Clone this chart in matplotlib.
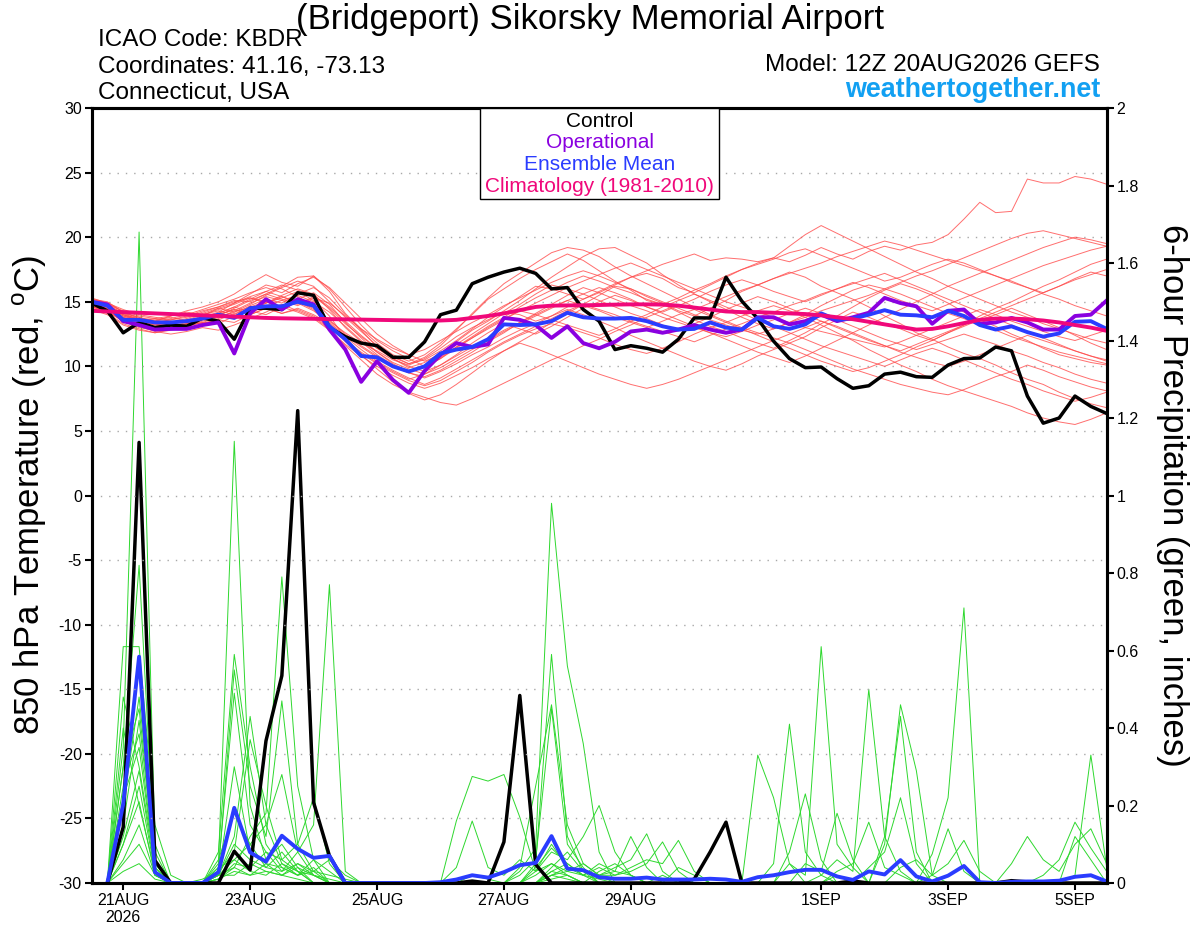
import numpy as np
import matplotlib
matplotlib.use('Agg')
import matplotlib.pyplot as plt
from matplotlib.patches import Rectangle

plt.rcParams['font.family'] = ['Liberation Sans', 'DejaVu Sans']
plt.rcParams['mathtext.fontset'] = 'custom'
plt.rcParams['mathtext.rm'] = 'Liberation Sans'
plt.rcParams['axes.unicode_minus'] = False

# 6-hourly steps from 12Z 20AUG2026 (hour 0) to 12Z 5SEP (hour 384)
hours = np.arange(65) * 6
tick_hours = [12, 60, 108, 156, 204, 276, 324, 372]
tick_labels = ['21AUG\n2026', '23AUG', '25AUG', '27AUG', '29AUG', '1SEP', '3SEP', '5SEP']

# 850 hPa temperature (C)
control_t = [14.9, 14.3, 12.6, 13.4, 13.0, 13.2, 13.1, 13.75,
             13.5, 12.1, 14.5, 14.5, 14.4, 15.7, 15.5, 13.0,
             12.3, 11.8, 11.6, 10.7, 10.7, 11.9, 14.0, 14.35,
             16.4, 16.9, 17.3, 17.6, 17.2, 16.0, 16.1, 14.4,
             13.5, 11.3, 11.6, 11.4, 11.1, 12.1, 13.75, 13.75,
             16.9, 15.05, 13.7, 11.95, 10.6, 9.9, 9.95, 9.05,
             8.3, 8.5, 9.4, 9.55, 9.2, 9.15, 10.1, 10.6,
             10.65, 11.5, 11.2, 7.7, 5.6, 6.0, 7.7, 6.9,
             6.35]
oper_t = [15.0, 14.8, 13.5, 13.2, 12.85, 12.9, 12.9, 13.2,
          13.4, 11.0, 14.1, 15.2, 14.4, 15.2, 14.8, 12.85,
          11.3, 8.8, 10.4, 8.95, 7.95, 9.65, 10.9, 11.8,
          11.5, 11.7, 13.75, 13.6, 13.2, 12.2, 13.1, 11.8,
          11.4, 11.9, 12.7, 12.85, 12.6, 12.85, 13.2, 12.85,
          12.6, 12.85, 13.8, 13.8, 13.25, 13.5, 14.0, 13.5,
          13.8, 14.15, 15.3, 14.9, 14.65, 13.3, 14.3, 14.4,
          13.3, 13.4, 13.75, 13.4, 12.85, 12.85, 13.9, 14.0,
          15.1]
mean_t = [15.0, 14.7, 13.6, 13.6, 13.4, 13.4, 13.5, 13.7,
          14.0, 13.75, 14.5, 14.65, 14.65, 15.0, 14.7, 13.1,
          12.1, 10.8, 10.7, 10.0, 9.6, 10.0, 11.0, 11.3,
          11.5, 12.1, 13.25, 13.2, 13.25, 13.5, 14.15, 13.8,
          13.7, 13.7, 13.75, 13.5, 13.1, 12.85, 12.9, 13.4,
          13.0, 12.85, 13.75, 13.1, 12.9, 13.25, 14.1, 13.6,
          13.7, 14.0, 14.35, 14.0, 13.95, 13.8, 14.3, 13.9,
          13.2, 12.85, 13.1, 12.65, 12.3, 12.55, 13.45, 13.5,
          12.9]
clim_t = [14.3, 14.25, 14.2, 14.15, 14.1, 14.05, 14.0, 13.95,
          13.9, 13.85, 13.8, 13.75, 13.72, 13.7, 13.68, 13.66,
          13.64, 13.62, 13.6, 13.58, 13.56, 13.55, 13.55, 13.6,
          13.75, 13.9, 14.1, 14.35, 14.6, 14.7, 14.72, 14.73,
          14.75, 14.78, 14.8, 14.8, 14.78, 14.7, 14.55, 14.4,
          14.25, 14.2, 14.2, 14.15, 14.1, 14.05, 13.95, 13.8,
          13.65, 13.45, 13.25, 13.05, 12.85, 12.9, 13.1, 13.35,
          13.6, 13.7, 13.7, 13.65, 13.55, 13.4, 13.2, 13.0,
          12.75]

members_t = [
    [14.8, 14.5, 13.9, 13.6, 13.3, 13.1, 13.4, 13.8, 14.2, 14.9, 15.6, 16.3, 16.0, 15.4, 14.6, 13.5,
     12.6, 11.8, 11.2, 10.5, 10.1, 10.6, 11.4, 12.3, 13.0, 13.6, 14.2, 14.0, 13.5, 13.9, 14.6, 15.2,
     15.8, 16.4, 16.9, 17.2, 16.8, 16.1, 15.7, 16.3, 16.9, 17.5, 18.0, 18.4, 18.1, 18.6, 19.2, 18.7,
     18.3, 18.9, 19.3, 19.0, 19.4, 19.6, 20.2, 21.4, 22.7, 21.9, 22.0, 24.5, 24.2, 24.2, 24.7, 24.5, 24.1],
    [15.2, 15.0, 14.2, 13.8, 13.5, 13.9, 14.3, 14.6, 15.0, 15.6, 16.4, 17.1, 16.5, 16.2, 17.0, 15.8,
     14.1, 12.9, 11.8, 10.9, 10.4, 10.9, 11.8, 12.9, 14.0, 15.2, 16.0, 16.8, 17.5, 18.1, 18.7, 18.2,
     17.4, 16.6, 15.9, 15.1, 14.8, 14.2, 13.6, 13.1, 12.7, 12.2, 11.8, 11.4, 12.0, 12.6, 13.3, 13.9,
     14.6, 15.3, 15.9, 16.4, 16.0, 15.5, 14.9, 14.2, 13.6, 13.1, 12.5, 12.0, 11.4, 10.9, 10.6, 10.3, 10.1],
    [14.6, 14.3, 13.5, 13.0, 12.8, 12.9, 13.1, 13.4, 13.3, 13.9, 14.4, 14.9, 15.3, 15.8, 15.1, 13.9,
     12.2, 10.9, 9.8, 8.8, 7.9, 7.4, 7.8, 8.6, 9.5, 10.4, 11.2, 11.9, 12.6, 13.4, 14.1, 14.8,
     15.5, 16.2, 16.0, 15.4, 14.9, 14.3, 13.9, 14.5, 15.1, 15.8, 16.3, 16.8, 17.3, 16.9, 16.2, 15.7,
     15.2, 14.6, 13.9, 13.3, 12.6, 12.1, 11.5, 11.0, 10.6, 10.1, 9.5, 9.0, 8.6, 8.0, 7.5, 7.1, 6.8],
    [15.0, 14.6, 14.0, 13.7, 13.6, 13.8, 13.5, 13.9, 14.5, 14.2, 14.8, 15.5, 16.1, 16.6, 16.2, 15.0,
     13.8, 12.7, 11.6, 10.8, 10.2, 10.7, 11.6, 12.8, 14.1, 15.3, 16.4, 17.2, 18.0, 18.8, 19.2, 19.0,
     18.5, 17.7, 17.0, 16.4, 15.8, 15.2, 14.6, 14.0, 13.5, 13.0, 12.6, 12.2, 11.8, 12.3, 13.0, 13.6,
     14.2, 13.8, 13.3, 12.9, 12.4, 12.0, 12.6, 13.2, 13.9, 14.5, 15.0, 15.6, 16.2, 16.7, 17.3, 17.9, 18.3],
    [14.9, 14.4, 13.7, 13.3, 13.0, 13.2, 13.6, 14.0, 14.3, 14.0, 14.7, 15.2, 14.9, 15.6, 16.1, 15.3,
     14.0, 12.8, 11.5, 10.6, 9.9, 10.3, 11.0, 11.9, 12.8, 13.5, 14.3, 15.1, 16.0, 16.9, 17.7, 18.5,
     19.1, 19.2, 18.6, 18.0, 17.1, 16.3, 15.6, 15.0, 14.4, 13.8, 13.3, 12.9, 13.4, 14.0, 14.7, 15.3,
     15.9, 16.3, 16.0, 15.6, 15.1, 14.6, 14.1, 13.7, 13.2, 12.8, 12.3, 11.9, 11.5, 11.1, 10.8, 10.5, 10.2],
    [14.5, 14.1, 13.3, 12.9, 12.6, 12.8, 13.0, 13.2, 13.6, 14.1, 14.3, 14.0, 14.6, 15.0, 14.4, 13.2,
     11.9, 11.0, 10.2, 9.5, 8.9, 8.5, 8.9, 9.6, 10.3, 11.1, 11.8, 12.4, 12.9, 13.3, 13.0, 12.6,
     12.2, 11.7, 11.3, 11.0, 11.4, 11.9, 12.5, 13.0, 13.4, 13.9, 14.3, 14.7, 14.3, 13.8, 13.2, 12.6,
     12.0, 11.3, 10.7, 10.1, 9.6, 9.0, 8.5, 8.1, 7.7, 7.3, 6.9, 6.4, 6.0, 5.7, 5.5, 5.9, 6.4],
    [15.3, 14.9, 14.4, 14.0, 13.8, 13.6, 13.8, 14.2, 14.6, 15.1, 15.0, 15.6, 16.2, 16.9, 17.0, 16.0,
     14.6, 13.2, 12.0, 11.2, 10.6, 10.0, 10.6, 11.5, 12.3, 13.1, 13.8, 14.6, 15.3, 15.9, 16.5, 17.0,
     16.6, 16.1, 15.7, 15.2, 14.8, 15.3, 15.9, 16.4, 17.0, 17.5, 17.9, 18.3, 18.8, 19.1, 18.6, 18.1,
     17.6, 17.1, 16.6, 16.9, 17.4, 17.9, 18.3, 18.0, 17.5, 17.0, 16.6, 16.1, 15.7, 16.2, 16.8, 17.3, 17.0],
    [14.7, 14.2, 13.5, 13.1, 12.7, 12.5, 12.7, 13.0, 12.8, 13.2, 13.7, 14.2, 14.8, 14.3, 13.8, 12.9,
     11.6, 10.5, 9.4, 8.6, 8.0, 7.6, 7.2, 7.0, 7.5, 8.1, 8.7, 9.3, 9.9, 10.5, 11.0, 11.6,
     12.1, 12.7, 13.2, 13.8, 14.3, 14.8, 14.4, 13.9, 13.4, 12.9, 12.4, 11.9, 11.4, 10.9, 10.4, 10.0,
     9.6, 9.9, 10.4, 10.9, 11.5, 12.0, 12.6, 13.1, 13.6, 14.0, 14.5, 14.0, 13.5, 13.0, 12.4, 11.8, 11.3],
    [15.1, 14.8, 14.1, 13.8, 13.4, 13.3, 13.2, 13.6, 14.0, 14.4, 14.1, 14.7, 15.1, 15.5, 15.0, 14.2,
     13.1, 12.0, 11.1, 10.3, 9.8, 9.4, 9.9, 10.6, 11.3, 12.0, 12.7, 13.3, 13.9, 14.5, 15.1, 15.6,
     16.1, 15.7, 15.2, 14.6, 14.1, 13.6, 13.1, 12.6, 12.1, 11.6, 11.1, 10.7, 10.3, 10.8, 11.4, 12.0,
     12.6, 13.2, 13.8, 14.4, 15.0, 15.6, 16.2, 16.7, 17.2, 17.7, 18.2, 18.7, 19.2, 19.6, 20.0, 19.8, 19.5],
    [14.4, 14.0, 13.2, 12.8, 12.6, 12.9, 13.3, 13.7, 14.1, 14.6, 15.2, 15.8, 15.4, 14.9, 14.3, 13.4,
     12.4, 11.5, 10.7, 10.0, 9.5, 9.1, 9.6, 10.2, 10.9, 11.5, 12.2, 12.8, 13.3, 13.9, 14.4, 14.0,
     13.5, 13.0, 12.4, 11.9, 11.4, 10.9, 10.4, 10.0, 9.7, 10.2, 10.8, 11.3, 11.8, 11.3, 10.8, 10.3,
     9.8, 9.4, 9.0, 8.6, 8.3, 8.0, 7.8, 8.2, 8.7, 9.2, 9.6, 10.1, 9.7, 9.2, 8.8, 8.4, 8.1],
    [14.9, 14.7, 14.0, 13.5, 13.2, 13.4, 13.7, 14.1, 14.5, 14.9, 15.4, 15.8, 16.3, 15.9, 15.5, 14.6,
     13.5, 12.4, 11.4, 10.7, 10.2, 10.5, 11.2, 12.0, 12.9, 13.8, 14.6, 15.4, 16.2, 16.0, 15.6, 15.2,
     15.7, 16.3, 16.9, 17.4, 17.9, 18.3, 18.7, 18.2, 18.4, 18.3, 18.1, 18.4, 19.3, 20.2, 20.9, 20.3,
     19.7, 19.1, 18.5, 17.9, 17.3, 16.8, 16.2, 15.7, 15.2, 14.7, 14.2, 13.8, 13.3, 12.9, 12.5, 12.1, 11.8],
    [15.0, 14.8, 14.3, 13.9, 13.7, 13.5, 13.4, 13.3, 13.7, 14.3, 14.9, 15.4, 15.1, 14.7, 15.3, 14.9,
     13.9, 12.9, 12.1, 11.4, 10.9, 11.3, 12.0, 12.7, 13.4, 14.0, 14.7, 15.3, 15.9, 16.5, 17.0, 17.4,
     17.0, 16.5, 16.0, 15.5, 15.0, 14.5, 14.0, 13.6, 13.2, 12.8, 12.5, 12.9, 13.4, 13.8, 14.3, 14.7,
     15.1, 15.5, 16.0, 16.5, 17.0, 17.4, 17.9, 18.4, 18.9, 19.4, 19.9, 20.3, 20.5, 20.2, 19.9, 19.6, 19.3],
    [14.6, 14.4, 13.8, 13.4, 13.0, 12.9, 13.1, 13.4, 13.8, 14.2, 14.6, 15.0, 14.6, 14.2, 13.7, 12.8,
     11.7, 10.8, 10.0, 9.3, 8.7, 8.3, 8.7, 9.3, 9.9, 10.6, 11.2, 11.8, 11.4, 10.9, 10.4, 9.9,
     9.4, 9.0, 8.6, 8.3, 8.6, 9.0, 9.5, 10.0, 10.5, 11.0, 11.5, 12.0, 12.5, 13.0, 13.5, 13.1,
     12.6, 12.1, 11.6, 11.1, 10.7, 10.3, 10.0, 10.4, 10.9, 11.4, 11.9, 12.4, 12.0, 11.6, 11.2, 10.8, 10.5],
    [15.2, 14.9, 14.2, 13.7, 13.5, 13.7, 14.0, 14.4, 14.8, 15.2, 15.7, 16.1, 15.7, 16.4, 16.9, 16.1,
     14.9, 13.7, 12.5, 11.6, 10.9, 10.4, 10.9, 11.7, 12.5, 13.3, 14.1, 14.8, 15.6, 16.3, 16.0, 15.6,
     15.1, 14.6, 14.1, 13.7, 13.2, 12.8, 13.3, 13.8, 14.4, 14.9, 15.4, 15.0, 14.5, 14.0, 13.5, 13.0,
     12.5, 12.0, 11.6, 11.2, 11.7, 12.2, 12.7, 13.2, 13.7, 14.2, 14.7, 15.2, 15.7, 16.2, 16.7, 17.1, 17.5],
    [14.8, 14.6, 14.0, 13.6, 13.4, 13.6, 13.9, 14.3, 14.6, 15.0, 15.3, 15.0, 14.6, 15.2, 15.7, 14.8,
     13.4, 12.2, 11.1, 10.2, 9.6, 9.9, 10.6, 11.4, 12.2, 12.9, 13.6, 14.3, 14.9, 15.5, 16.1, 16.6,
     17.1, 17.6, 18.0, 17.5, 17.0, 16.5, 16.0, 15.5, 15.0, 14.6, 14.2, 13.8, 13.4, 13.0, 12.7, 12.4,
     12.1, 11.8, 11.5, 11.9, 12.4, 12.9, 13.4, 13.9, 14.4, 14.0, 13.5, 13.1, 12.7, 12.3, 12.0, 12.4, 12.8],
    [14.7, 14.3, 13.6, 13.2, 13.0, 13.1, 13.3, 13.6, 14.0, 14.4, 14.0, 14.5, 14.1, 14.5, 14.0, 13.3,
     12.3, 11.3, 10.4, 9.7, 9.1, 8.6, 9.1, 9.8, 10.5, 11.2, 11.9, 12.5, 13.1, 13.7, 14.3, 14.8,
     14.4, 14.0, 13.5, 13.1, 12.7, 12.3, 11.9, 12.4, 12.9, 13.3, 13.8, 14.2, 14.7, 15.1, 15.6, 16.0,
     16.4, 16.8, 17.2, 16.7, 16.2, 15.7, 15.2, 14.7, 14.2, 13.7, 13.2, 12.7, 12.2, 11.7, 11.2, 10.8, 10.4],
    [14.9, 14.6, 13.9, 13.5, 13.3, 13.0, 13.2, 13.5, 13.9, 14.5, 15.1, 15.6, 15.2, 14.8, 15.4, 14.5,
     13.3, 12.3, 11.4, 10.6, 10.0, 9.6, 10.1, 10.9, 11.8, 12.6, 13.3, 12.9, 12.5, 13.1, 13.8, 14.5,
     15.0, 15.5, 15.1, 14.6, 14.2, 14.7, 15.2, 15.8, 16.3, 16.7, 16.3, 15.8, 15.4, 15.0, 15.5, 16.0,
     16.5, 16.1, 15.6, 15.1, 14.7, 14.3, 14.8, 15.3, 15.8, 16.3, 16.8, 17.3, 17.8, 18.2, 18.6, 19.0, 19.3],
    [15.1, 14.7, 14.1, 13.6, 13.7, 13.9, 14.2, 14.0, 14.4, 14.8, 15.3, 14.9, 15.5, 16.0, 15.6, 14.4,
     13.0, 11.9, 10.9, 10.1, 9.5, 9.2, 9.7, 10.4, 11.1, 11.9, 12.6, 13.4, 14.1, 14.8, 15.5, 16.1,
     15.7, 15.2, 14.7, 14.3, 13.8, 13.4, 13.0, 12.6, 12.3, 12.7, 13.2, 13.6, 14.1, 14.5, 14.1, 13.6,
     13.1, 12.6, 12.1, 11.7, 11.3, 11.7, 12.1, 12.5, 12.1, 11.7, 11.2, 10.8, 10.3, 9.9, 9.4, 9.0, 8.7],
    [14.6, 14.2, 13.6, 13.4, 13.1, 13.3, 13.6, 13.3, 13.6, 13.4, 14.0, 14.5, 14.1, 14.4, 13.9, 13.0,
     12.0, 11.1, 10.3, 9.6, 9.0, 9.4, 10.1, 10.8, 11.5, 12.1, 12.8, 13.4, 14.0, 14.6, 15.1, 14.7,
     14.3, 13.8, 13.4, 13.0, 13.5, 14.0, 14.4, 14.9, 15.4, 15.9, 16.3, 16.8, 17.2, 17.6, 18.0, 18.5,
     18.9, 19.3, 19.7, 19.4, 19.0, 18.6, 18.2, 17.8, 17.4, 17.0, 16.5, 16.1, 15.6, 15.2, 14.7, 14.3, 13.9],
    [15.0, 14.5, 13.8, 13.5, 13.2, 13.0, 13.3, 13.7, 14.1, 14.6, 14.2, 14.9, 15.4, 15.0, 14.5, 13.6,
     12.5, 11.6, 10.8, 10.1, 9.6, 10.0, 10.7, 11.5, 12.2, 13.0, 13.7, 14.3, 14.0, 13.6, 13.2, 12.8,
     12.4, 12.9, 13.5, 14.0, 14.6, 15.1, 15.6, 15.1, 14.6, 14.1, 13.6, 13.1, 12.6, 12.1, 11.6, 11.2,
     10.8, 10.4, 10.0, 10.5, 11.0, 11.4, 11.0, 10.5, 10.0, 9.5, 9.0, 8.6, 8.1, 7.7, 7.3, 7.6, 8.0],
]

# 6-hour precipitation (inches), first value at hour 6
control_p = [0, .144, 1.137, .058, 0, 0, 0, 0,
             .082, .034, .367, .535, 1.219, .208, .07, 0,
             0, 0, 0, 0, 0, 0, 0, .005,
             0, .106, .484, .048, 0, 0, 0, 0,
             0, 0, 0, 0, 0, .01, .08, .157,
             0, 0, 0, 0, 0, 0, 0, .005,
             0, 0, 0, 0, 0, 0, 0, 0,
             0, .006, .003, 0, 0, 0, 0, 0]
mean_p = [0, .204, .584, .028, 0, 0, 0, .028,
          .194, .079, .055, .122, .088, .065, .07, 0,
          0, 0, 0, 0, 0, .002, .009, .02,
          .014, .028, .046, .052, .121, .037, .033, .015,
          .011, .011, .014, .009, .009, .009, .011, .009,
          .003, .015, .02, .028, .034, .034, .017, .008,
          .03, .022, .059, .017, .004, .019, .044, .002,
          0, .003, .004, .004, .006, .016, .02, .004]

members_p = [
    [0, .35, 1.68, .10, 0, 0, 0, .02, .30, .08, .05, .02, .01, 0, 0, 0,
     0, 0, 0, 0, 0, 0, 0, 0, 0, 0, .03, .09, .98, .56, .36, .08,
     0, 0, 0, .02, 0, 0, 0, 0, 0, 0, 0, 0, 0, 0, 0, 0,
     0, 0, 0, 0, 0, 0, 0, 0, 0, 0, 0, 0, 0, .02, .33, .04],
    [0, .30, .82, .05, 0, 0, 0, .05, 1.14, .20, .06, .10, .04, 0, 0, 0,
     0, 0, 0, 0, 0, 0, 0, 0, 0, 0, 0, .05, .59, .12, .03, 0,
     0, 0, 0, 0, 0, 0, 0, 0, 0, 0, .05, .41, .08, .02, 0, 0,
     0, 0, 0, 0, 0, 0, 0, 0, 0, 0, 0, 0, 0, 0, 0, 0],
    [0, .61, .61, .15, .02, 0, 0, .08, .59, .30, .10, .04, .02, .06, .03, 0,
     0, 0, 0, 0, 0, 0, 0, 0, 0, 0, 0, 0, .02, .01, 0, 0,
     0, 0, 0, 0, 0, 0, 0, 0, 0, .33, .22, .05, 0, 0, .02, 0,
     0, 0, 0, 0, 0, 0, 0, 0, 0, 0, 0, 0, 0, 0, 0, 0],
    [0, .20, .48, .08, 0, 0, .01, .03, .55, .25, .12, .47, .10, .03, 0, 0,
     0, 0, 0, 0, 0, 0, 0, .02, .01, 0, .04, .25, .46, .15, .05, .02,
     0, 0, 0, 0, 0, 0, 0, 0, 0, 0, 0, .05, .02, .61, .10, .04,
     0, 0, 0, 0, 0, 0, 0, 0, 0, 0, 0, 0, 0, 0, 0, 0],
    [0, .15, .42, .06, 0, 0, 0, .04, .49, .15, .08, .03, .05, .02, 0, 0,
     0, 0, 0, 0, 0, 0, 0, 0, 0, 0, .02, .06, .45, .10, .04, 0,
     0, 0, 0, 0, 0, 0, 0, 0, 0, 0, 0, .08, .23, .06, 0, 0,
     0, 0, 0, 0, 0, 0, 0, 0, 0, 0, 0, 0, 0, 0, 0, 0],
    [0, .25, .385, .04, 0, 0, 0, .06, .18, .10, .04, .08, .03, 0, 0, 0,
     0, 0, 0, 0, 0, 0, 0, 0, 0, 0, 0, .03, .08, .06, .12, .20,
     .08, .02, 0, 0, 0, 0, 0, 0, 0, 0, 0, 0, .05, .03, .18, .06,
     0, 0, 0, 0, 0, 0, 0, 0, 0, 0, 0, 0, 0, 0, 0, 0],
    [0, .12, .29, .03, 0, 0, 0, .02, .12, .43, .15, .05, .02, .04, 0, 0,
     0, 0, 0, 0, 0, 0, 0, 0, 0, 0, 0, .02, .05, .03, .02, .05,
     .03, .12, .04, 0, 0, 0, 0, 0, 0, 0, 0, 0, 0, .02, .06, .03,
     .50, .12, .03, 0, 0, 0, 0, 0, 0, 0, 0, 0, 0, 0, 0, 0],
    [0, .10, .21, .02, 0, 0, 0, .03, .08, .37, .20, .06, .03, 0, 0, 0,
     0, 0, 0, 0, 0, 0, 0, 0, 0, 0, 0, 0, .04, .08, .03, .02,
     .04, .06, .127, .03, 0, 0, 0, 0, 0, 0, 0, 0, 0, 0, .03, .05,
     .157, .04, .02, 0, 0, 0, 0, 0, 0, 0, 0, 0, 0, 0, 0, 0],
    [0, .05, .10, .02, 0, 0, 0, .01, .04, .12, .18, .79, .25, .06, 0, 0,
     0, 0, 0, 0, 0, 0, 0, 0, 0, 0, 0, 0, .03, .05, .02, .04,
     .02, .03, .05, .106, .03, 0, 0, 0, 0, 0, 0, 0, 0, 0, 0, 0,
     0, .10, .46, .29, .02, 0, 0, 0, 0, 0, 0, 0, 0, 0, 0, 0],
    [0, .48, .30, .05, 0, 0, 0, .02, .06, .10, .15, .28, .08, .02, 0, 0,
     0, 0, 0, 0, 0, 0, 0, 0, 0, 0, 0, 0, .02, .04, .03, .02,
     .02, .04, .06, .05, .11, .03, 0, 0, 0, 0, 0, 0, 0, 0, 0, 0,
     0, .12, .43, .08, 0, 0, 0, 0, 0, 0, 0, 0, 0, 0, 0, 0],
    [0, .22, .35, .04, 0, 0, 0, .01, .05, .04, .08, .06, .10, .22, .05, 0,
     0, 0, 0, 0, 0, 0, 0, 0, 0, 0, 0, 0, .01, .02, 0, .03,
     .05, .02, 0, 0, .04, .02, 0, 0, 0, 0, 0, 0, 0, 0, 0, 0,
     .04, .08, .22, .05, 0, 0, 0, 0, 0, 0, 0, 0, 0, .12, .06, 0],
    [0, .10, .25, .03, 0, 0, 0, .02, .10, .06, .04, .03, .08, .15, .77, .03,
     0, 0, 0, 0, 0, 0, 0, 0, 0, 0, 0, 0, .02, .03, .05, .02,
     .03, .02, 0, 0, 0, 0, 0, 0, 0, 0, 0, 0, 0, 0, 0, 0,
     0, 0, .04, .06, .02, .14, .03, 0, 0, 0, 0, 0, 0, 0, 0, 0],
    [0, .06, .15, .02, 0, 0, 0, .01, .03, .02, .05, .04, .02, .03, .06, .02,
     0, 0, 0, 0, 0, 0, .16, .275, .263, .28, .17, .03, .05, .02, 0, 0,
     0, 0, 0, 0, 0, 0, 0, 0, 0, 0, 0, 0, 0, 0, 0, 0,
     0, 0, 0, 0, .075, .22, .71, 0, 0, 0, 0, 0, 0, 0, 0, 0],
    [0, .30, .45, .06, 0, 0, 0, .02, .02, .05, .03, .02, .04, .02, .01, 0,
     0, 0, 0, 0, 0, 0, .04, .16, .04, .02, .06, .03, .10, .04, .02, 0,
     0, 0, 0, 0, 0, 0, 0, 0, 0, 0, 0, 0, 0, 0, 0, 0,
     0, 0, 0, 0, .02, .05, .11, .03, 0, 0, 0, 0, 0, 0, 0, 0],
    [0, .40, .20, .03, 0, 0, 0, .04, .06, .03, .02, .05, .03, .02, 0, 0,
     0, 0, 0, 0, 0, 0, 0, 0, 0, 0, 0, .04, .09, .05, .02, .01,
     0, 0, 0, 0, 0, 0, 0, 0, 0, 0, 0, 0, 0, 0, 0, 0,
     0, 0, 0, 0, 0, 0, 0, 0, 0, .05, .12, .06, .03, .10, .14, .05],
    [0, .03, .05, .01, 0, 0, 0, .02, .04, .02, .03, .02, .05, .03, .02, .01,
     0, 0, 0, 0, 0, 0, 0, 0, 0, 0, 0, 0, .03, .02, 0, 0,
     0, 0, 0, 0, 0, 0, 0, 0, 0, 0, 0, 0, 0, 0, 0, 0,
     0, 0, 0, 0, 0, 0, 0, 0, 0, 0, 0, .02, .06, .157, .09, .03],
]

fig = plt.figure(figsize=(12, 9.27), dpi=100)
ax = fig.add_axes([0.07625, 0.04746, 0.846, 0.836])
ax2 = ax.twinx()
ax.set_zorder(ax2.get_zorder() + 1)
ax.patch.set_visible(False)

# precipitation (right axis)
for m in members_p:
    ax2.plot(hours[1:1 + len(m)], m, color='#2ed82e', lw=0.7)
ax2.plot(hours[1:], control_p, color='black', lw=2.5)
ax2.plot(hours[1:], mean_p, color='#2a3cff', lw=2.8)

# temperature (left axis)
for m in members_t:
    ax.plot(hours[:len(m)], m, color='#ff4a4a', lw=0.7, alpha=0.8)
ax.plot(hours, control_t, color='black', lw=2.5)
ax.plot(hours, oper_t, color='#8a00e0', lw=2.8)
ax.plot(hours, mean_t, color='#2a3cff', lw=2.8)
ax.plot(hours, clim_t, color='#f0087a', lw=2.8)

ax.set_xlim(0, 384)
ax.set_ylim(-30, 30)
ax2.set_ylim(0, 2)
ax.set_yticks(np.arange(-30, 31, 5))
ax2.set_yticks(np.arange(0, 2.01, 0.2))
ax2.set_yticklabels(['{:g}'.format(round(v, 1)) for v in np.arange(0, 2.01, 0.2)])
ax.set_xticks(tick_hours)
ax.set_xticklabels(tick_labels)
ax.yaxis.grid(True, linestyle=(0, (1, 5)), color='#a8a8a8', lw=1.0)

for a in (ax, ax2):
    a.tick_params(direction='out', length=5, width=1.5, labelsize=11.5, pad=2)
    for s in a.spines.values():
        s.set_linewidth(2.2)

# legend box
ax.add_patch(Rectangle((0.3827, 0.8826), 0.2358, 0.1174, transform=ax.transAxes,
                       facecolor='white', edgecolor='black', lw=1.0, zorder=5))
leg = [('Control', 'black', 0.9751), ('Operational', '#8a00e0', 0.9480),
       ('Ensemble Mean', '#2a3cff', 0.9200), ('Climatology (1981-2010)', '#f0087a', 0.8920)]
for txt, col, yy in leg:
    ax.text(0.5006, yy, txt, color=col, fontsize=15, ha='center', va='baseline',
            transform=ax.transAxes, zorder=6)

# header
fig.text(0.4917, 0.9684, '(Bridgeport) Sikorsky Memorial Airport', fontsize=25,
         ha='center', va='baseline')
fig.text(0.0817, 0.9504, 'ICAO Code: KBDR', fontsize=17.5, va='baseline')
fig.text(0.0817, 0.9216, 'Coordinates: 41.16, -73.13', fontsize=17.5, va='baseline')
fig.text(0.0817, 0.8929, 'Connecticut, USA', fontsize=17.5, va='baseline')
fig.text(0.9167, 0.9234, 'Model: 12Z 20AUG2026 GEFS', fontsize=17.5, ha='right', va='baseline')
fig.text(0.9172, 0.8950, 'weathertogether.net', fontsize=19.4, fontweight='bold',
         color='#12a0f2', ha='right', va='baseline')

fig.text(30 / 1200, 1 - 495 / 927, r'850 hPa Temperature (red, $^{\mathrm{o}}$C)',
         fontsize=25, rotation=90, ha='center', va='center')
fig.text(1172 / 1200, 1 - 495 / 927, '6-hour Precipitation (green, inches)',
         fontsize=25, rotation=270, ha='center', va='center')

fig.savefig('out.png', dpi=100)
